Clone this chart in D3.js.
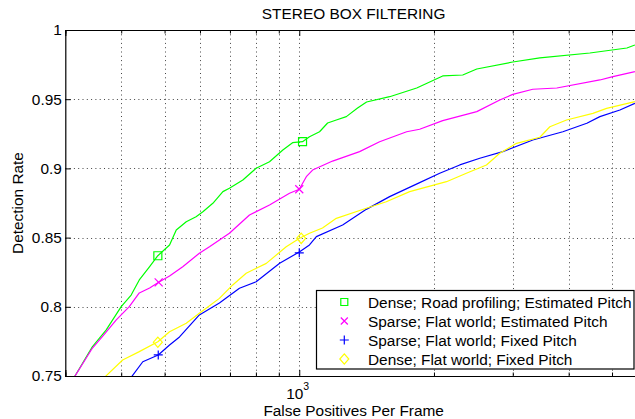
<!DOCTYPE html>
<html><head><meta charset="utf-8">
<script src="https://cdn.jsdelivr.net/npm/d3@7"></script>
<style>body{margin:0;background:#fff} svg{display:block} text{font-family:"Liberation Sans",Arial,Helvetica,sans-serif;fill:#000}</style>
</head><body><svg id="c" width="635" height="419"></svg>
<script>
const title = "STEREO BOX FILTERING";
const xLabel = "False Positives Per Frame";
const yLabel = "Detection Rate";
const seriesNames = ["Dense; Road profiling; Estimated Pitch","Sparse; Flat world; Estimated Pitch","Sparse; Flat world; Fixed Pitch","Dense; Flat world; Fixed Pitch"];
const seriesColors = ["#00ff00","#ff00ff","#0000ff","#ffff00"];
const seriesSymbols = ["square","x","plus","diamond"];
const xDomain = [300, 5834];
const yDomain = [0.75, 1];
const yTicks = [0.75,0.8,0.85,0.9,0.95,1];
const yTickLabels = ["0.75","0.8","0.85","0.9","0.95","1"];
const xMinorTicks = [400,500,600,700,800,900,2000,3000,4000,5000];
const xMajorTicks = [1000];

// [false positives per frame, detection rate]
const denseRoad = [[314,0.749],[345,0.7712],[370,0.7832],[400,0.8001],[421,0.8085],[439,0.8194],[463,0.8290],[483,0.8369],[513,0.8447],[531,0.8555],[559,0.8615],[588,0.8651],[609,0.8687],[641,0.8748],[675,0.8832],[698,0.8856],[748,0.8916],[801,0.9001],[858,0.9048],[919,0.9133],[966,0.9186],[1017,0.9193],[1054,0.9229],[1110,0.9265],[1157,0.9328],[1210,0.935],[1274,0.9374],[1350,0.9436],[1414,0.948],[1592,0.9518],[1830,0.9581],[2092,0.9668],[2319,0.9675],[2493,0.9718],[3001,0.9769],[3449,0.9798],[4461,0.9834],[5398,0.987],[5625,0.9892]];
const sparseFlatEst = [[314,0.749],[345,0.7702],[363,0.7784],[390,0.7905],[417,0.8001],[439,0.8100],[463,0.8136],[485,0.8177],[513,0.8223],[549,0.829],[598,0.8387],[630,0.8434],[698,0.8531],[774,0.8663],[858,0.8736],[951,0.882],[1000,0.8849],[1037,0.894],[1071,0.8988],[1187,0.9053],[1364,0.9121],[1512,0.9193],[1738,0.9265],[1858,0.9283],[2092,0.9345],[2493,0.941],[2806,0.9494],[3001,0.9535],[3326,0.9572],[3764,0.9581],[4697,0.9639],[5022,0.9663],[5625,0.9699]];
const sparseFlatFixed = [[421,0.749],[447,0.7603],[484,0.7652],[513,0.7724],[540,0.7782],[598,0.7941],[663,0.8027],[735,0.8134],[801,0.8181],[904,0.8314],[1002,0.8398],[1054,0.8447],[1092,0.8507],[1250,0.8591],[1412,0.8704],[1592,0.8796],[1858,0.8897],[2060,0.8965],[2284,0.9025],[2532,0.9073],[2850,0.9121],[3326,0.9205],[3882,0.9265],[4392,0.9326],[4697,0.9374],[5207,0.9422],[5625,0.947]];
const denseFlatFixed = [[367,0.749],[403,0.7616],[439,0.7676],[483,0.7748],[513,0.782],[559,0.7881],[598,0.7953],[663,0.8061],[710,0.8158],[761,0.8242],[844,0.8314],[935,0.8434],[1002,0.8495],[1054,0.8531],[1127,0.8569],[1210,0.8639],[1412,0.8712],[1565,0.8759],[1765,0.8832],[2133,0.8904],[2363,0.8965],[2620,0.9025],[2806,0.9109],[3059,0.9181],[3449,0.9225],[3631,0.9301],[3957,0.935],[4531,0.9398],[4862,0.9434],[5625,0.9483]];
const seriesData = [denseRoad, sparseFlatEst, sparseFlatFixed, denseFlatFixed];

const denseRoadMarkers = [[483,0.8369],[1017,0.9193]];
const sparseFlatEstMarkers = [[485,0.8177],[1000,0.8849]];
const sparseFlatFixedMarkers = [[484,0.7652],[1000,0.839]];
const denseFlatFixedMarkers = [[483,0.7744],[1010,0.8495]];
const seriesMarkers = [denseRoadMarkers, sparseFlatEstMarkers, sparseFlatFixedMarkers, denseFlatFixedMarkers];

const svg = d3.select("#c");
const L = 65.3, R = 642, T = 30, B = 376;
const FS = 15.4;
const x = d3.scaleLog().domain(xDomain).range([L, R]);
const y = d3.scaleLinear().domain(yDomain).range([B, T]);

svg.append("defs").append("clipPath").attr("id","clip").append("rect")
  .attr("x", L).attr("y", T).attr("width", R - L).attr("height", B - T);

// grid
const grid = svg.append("g");
const allX = xMinorTicks.concat(xMajorTicks);
grid.selectAll("line.gx").data(allX).join("line")
  .attr("x1", d => Math.round(x(d)) + 0.5).attr("x2", d => Math.round(x(d)) + 0.5)
  .attr("y1", T).attr("y2", B)
  .attr("stroke", "#444").attr("stroke-width", 1).attr("stroke-dasharray", "1,3.3");
grid.selectAll("line.gy").data(yTicks.slice(1, -1)).join("line")
  .attr("y1", d => Math.round(y(d)) + 0.5).attr("y2", d => Math.round(y(d)) + 0.5)
  .attr("x1", L).attr("x2", R)
  .attr("stroke", "#444").attr("stroke-width", 1).attr("stroke-dasharray", "1,3.3");

// lines
const line = d3.line().x(d => x(d[0])).y(d => y(d[1]));
const lg = svg.append("g").attr("clip-path", "url(#clip)");
seriesData.forEach((s, i) => {
  lg.append("path").attr("d", line(s)).attr("fill", "none")
    .attr("stroke", seriesColors[i]).attr("stroke-width", 1.2).attr("stroke-linejoin", "round");
});

function symbolPath(type, cx, cy, s) {
  const h = s / 2;
  if (type === "square") return `M${cx-h},${cy-h}H${cx+h}V${cy+h}H${cx-h}Z`;
  if (type === "x") return `M${cx-h},${cy-h}L${cx+h},${cy+h}M${cx-h},${cy+h}L${cx+h},${cy-h}`;
  if (type === "plus") return `M${cx-h},${cy}H${cx+h}M${cx},${cy-h}V${cy+h}`;
  if (type === "diamond") return `M${cx},${cy-h*1.15}L${cx+h},${cy}L${cx},${cy+h*1.15}L${cx-h},${cy}Z`;
}
const markerSizes = {square: 8, x: 8, plus: 9, diamond: 9};
seriesMarkers.forEach((m, i) => {
  m.forEach(p => {
    svg.append("path").attr("d", symbolPath(seriesSymbols[i], x(p[0]), y(p[1]), markerSizes[seriesSymbols[i]]))
      .attr("fill", "none").attr("stroke", seriesColors[i]).attr("stroke-width", 1.2);
  });
});

// axes
const ax = svg.append("g");
ax.append("g").attr("transform", `translate(0,${B})`)
  .call(d3.axisBottom(x).tickValues(xMinorTicks).tickSize(-3.5).tickFormat(""));
ax.append("g").attr("transform", `translate(0,${B})`)
  .call(d3.axisBottom(x).tickValues(xMajorTicks).tickSize(-6).tickFormat(""));
ax.append("g").attr("transform", `translate(0,${T})`)
  .call(d3.axisTop(x).tickValues(xMinorTicks).tickSize(-3.5).tickFormat(""));
ax.append("g").attr("transform", `translate(0,${T})`)
  .call(d3.axisTop(x).tickValues(xMajorTicks).tickSize(-6).tickFormat(""));
ax.append("g").attr("transform", `translate(${L},0)`)
  .call(d3.axisLeft(y).tickValues(yTicks).tickSize(-5.5).tickFormat((d, i) => yTickLabels[i]).tickPadding(3.5));
ax.selectAll(".domain").attr("stroke", "#000").attr("stroke-width", 1.2);
ax.selectAll(".tick line").attr("stroke", "#000");
ax.selectAll(".tick text").attr("font-size", FS).attr("font-family", "Liberation Sans, Arial, sans-serif").attr("fill", "#000");

// 10^3 label
svg.append("text").attr("x", x(1000) - 13).attr("y", 398.5).attr("font-size", FS).text("10");
svg.append("text").attr("x", x(1000) + 4).attr("y", 390).attr("font-size", 10.5).text("3");

// titles
svg.append("text").attr("x", (L + R) / 2).attr("y", 18.5).attr("text-anchor", "middle").attr("font-size", FS).text(title);
svg.append("text").attr("x", (L + R) / 2).attr("y", 416).attr("text-anchor", "middle").attr("font-size", FS).text(xLabel);
svg.append("text").attr("transform", `translate(23,${(T + B) / 2}) rotate(-90)`).attr("text-anchor", "middle").attr("font-size", FS).text(yLabel);

// legend
const leg = svg.append("g");
leg.append("rect").attr("x", 316.5).attr("y", 290.5).attr("width", 317.5).attr("height", 78.5)
  .attr("fill", "#fff").attr("stroke", "#000").attr("stroke-width", 1.2);
const legSizes = {square: 7, x: 7, plus: 9, diamond: 9};
seriesNames.forEach((name, i) => {
  const cy = 302 + i * 19;
  leg.append("path").attr("d", symbolPath(seriesSymbols[i], 344.3, cy, legSizes[seriesSymbols[i]]))
    .attr("fill", "none").attr("stroke", seriesColors[i]).attr("stroke-width", 1.2);
  leg.append("text").attr("x", 368).attr("y", cy + 5.5).attr("font-size", FS).text(name);
});
</script></body></html>
